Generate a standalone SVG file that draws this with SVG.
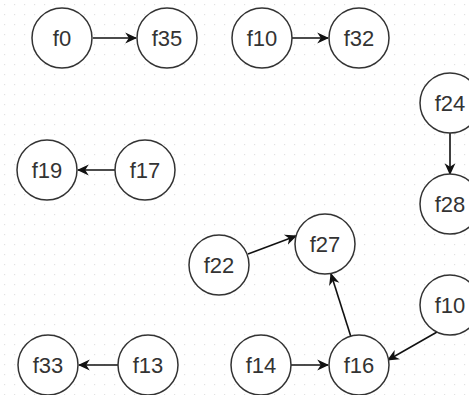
<svg xmlns="http://www.w3.org/2000/svg" width="469" height="395" viewBox="0 0 469 395">
<defs>
<pattern id="grid" width="10" height="10" patternUnits="userSpaceOnUse">
<rect x="4" y="4" width="1.2" height="1.2" fill="#e2e2e2"/>
</pattern>
<marker id="ah" viewBox="0 0 10 10" refX="9" refY="5" markerWidth="12" markerHeight="12" markerUnits="userSpaceOnUse" orient="auto">
<path d="M0,0.5 L10,5 L0,9.5 L3,5 Z" fill="#111"/>
</marker>
<style>
.n circle{fill:#fff;stroke:#333;stroke-width:1.5}
.n text{font-family:"Liberation Sans",Arial,sans-serif;font-size:22px;fill:#333;text-anchor:middle;dominant-baseline:central}
#edges line{stroke:#111;stroke-width:1.6;marker-end:url(#ah)}
</style>
</defs>
<rect width="469" height="395" fill="#fff"/>
<rect width="469" height="395" fill="url(#grid)"/>
<g id="edges">
<line x1="93" y1="38" x2="136" y2="38"/>
<line x1="292" y1="38" x2="328" y2="38"/>
<line x1="450" y1="133" x2="450" y2="174"/>
<line x1="115" y1="170" x2="78" y2="170"/>
<line x1="248" y1="254" x2="296" y2="236"/>
<line x1="351" y1="337" x2="331" y2="274"/>
<line x1="437" y1="332" x2="388" y2="360"/>
<line x1="291" y1="365" x2="328" y2="365"/>
<line x1="118" y1="365" x2="79" y2="365"/>
</g>
<g id="n-f0" class="n"><circle cx="62" cy="38" r="30"/><text x="62" y="38">f0</text></g>
<g id="n-f35" class="n"><circle cx="167" cy="38" r="30"/><text x="167" y="38">f35</text></g>
<g id="n-f10a" class="n"><circle cx="262" cy="38" r="30"/><text x="262" y="38">f10</text></g>
<g id="n-f32" class="n"><circle cx="359" cy="38" r="30"/><text x="359" y="38">f32</text></g>
<g id="n-f24" class="n"><circle cx="450" cy="103" r="30"/><text x="450" y="103">f24</text></g>
<g id="n-f28" class="n"><circle cx="450" cy="204" r="30"/><text x="450" y="204">f28</text></g>
<g id="n-f19" class="n"><circle cx="47" cy="170" r="30"/><text x="47" y="170">f19</text></g>
<g id="n-f17" class="n"><circle cx="145" cy="170" r="30"/><text x="145" y="170">f17</text></g>
<g id="n-f22" class="n"><circle cx="219" cy="265" r="30"/><text x="219" y="265">f22</text></g>
<g id="n-f27" class="n"><circle cx="325" cy="244" r="30"/><text x="325" y="244">f27</text></g>
<g id="n-f10b" class="n"><circle cx="450" cy="305" r="30"/><text x="450" y="305">f10</text></g>
<g id="n-f33" class="n"><circle cx="48" cy="365" r="30"/><text x="48" y="365">f33</text></g>
<g id="n-f13" class="n"><circle cx="148" cy="365" r="30"/><text x="148" y="365">f13</text></g>
<g id="n-f14" class="n"><circle cx="261" cy="365" r="30"/><text x="261" y="365">f14</text></g>
<g id="n-f16" class="n"><circle cx="359" cy="365" r="30"/><text x="359" y="365">f16</text></g>
</svg>
